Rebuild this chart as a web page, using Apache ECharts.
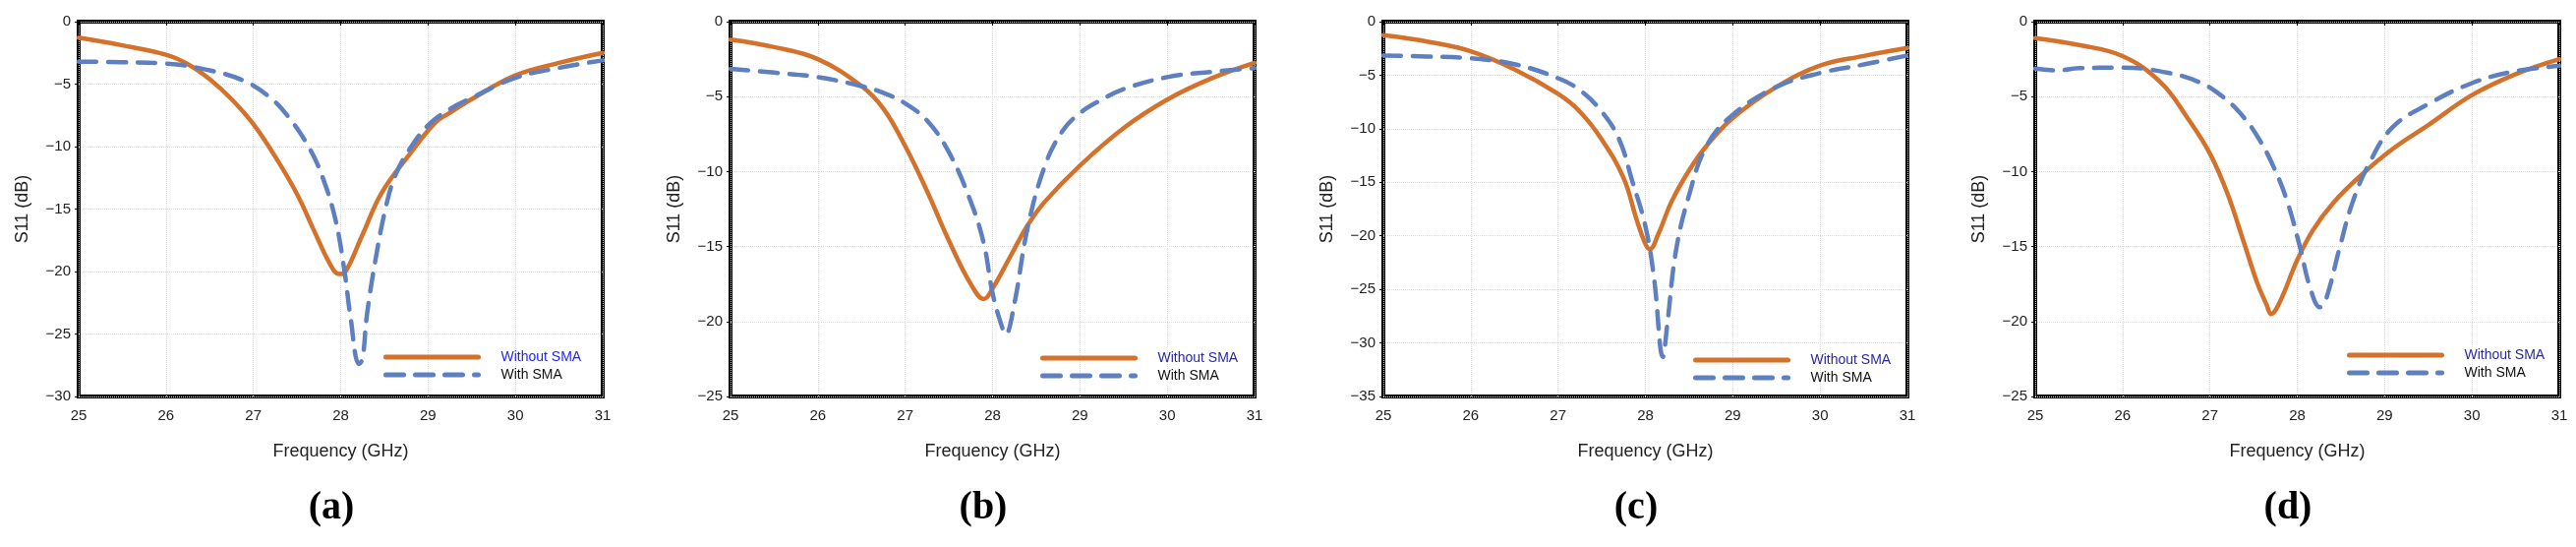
<!DOCTYPE html>
<html>
<head>
<meta charset="utf-8">
<script src="https://cdn.jsdelivr.net/npm/echarts@6/dist/echarts.min.js"></script>
<style>
  html, body { margin: 0; padding: 0; background: #fff; }
  #chart { width: 2620px; height: 556px; }
</style>
</head>
<body>
<div id="chart"></div>
<script>
// frequency points (GHz) and S11 (dB)
const freqWithoutA = [25, 25.5, 26, 26.25, 26.5, 26.75, 27, 27.25, 27.5, 27.7, 27.87, 27.98, 28.05, 28.24, 28.47, 28.78, 29.08, 29.25, 29.5, 30, 30.5, 31]
const withoutA = [-1.28, -1.9, -2.65, -3.4, -4.6, -6.2, -8.2, -10.8, -13.8, -16.8, -19.3, -20.2, -20.05, -17.2, -13.7, -10.7, -8.1, -7.3, -6.2, -4.3, -3.3, -2.5]
const freqWithA = [25, 25.5, 26, 26.5, 26.88, 27.18, 27.41, 27.64, 27.79, 27.94, 28.04, 28.11, 28.21, 28.25, 28.3, 28.4, 28.51, 28.62, 28.78, 29, 29.25, 29.5, 30, 30.5, 31]
const withA = [-3.2, -3.25, -3.35, -3.9, -4.7, -6.0, -7.7, -10.1, -12.4, -15.85, -19.8, -23.5, -27.4, -27.0, -23.5, -19.0, -15.06, -12.4, -10.3, -8.3, -7.0, -6.1, -4.5, -3.7, -3.1]

const freqWithoutB = [25, 25.5, 26, 26.5, 26.75, 27, 27.25, 27.5, 27.75, 27.9, 28, 28.2, 28.4, 28.6, 29, 29.5, 30, 30.5, 31]
const withoutB = [-1.2, -1.7, -2.5, -4.3, -5.8, -8.3, -11.3, -14.6, -17.5, -18.5, -17.8, -15.7, -13.6, -12.0, -9.6, -7.1, -5.2, -3.8, -2.75]
const freqWithB = [25, 25.5, 26, 26.5, 26.75, 27, 27.25, 27.5, 27.75, 27.9, 28, 28.1, 28.15, 28.25, 28.4, 28.6, 28.8, 29, 29.25, 29.5, 30, 30.5, 31]
const withB = [-3.15, -3.4, -3.7, -4.3, -4.75, -5.45, -6.6, -8.7, -12.0, -14.8, -18.1, -20.2, -20.85, -18.8, -13.8, -9.6, -7.3, -6.1, -5.2, -4.5, -3.7, -3.35, -3.1]

const freqWithoutC = [25, 25.5, 26, 26.5, 27, 27.25, 27.5, 27.75, 27.9, 28, 28.05, 28.15, 28.3, 28.5, 28.7, 29, 29.5, 30, 30.5, 31]
const withoutC = [-1.27, -1.86, -2.77, -4.46, -6.75, -8.4, -11, -14.6, -18.5, -20.75, -21.25, -19.8, -16.8, -13.9, -11.6, -9, -6.1, -4.1, -3.2, -2.45]
const freqWithC = [25, 25.5, 26, 26.5, 27, 27.25, 27.5, 27.7, 27.85, 28, 28.1, 28.2, 28.25, 28.35, 28.5, 28.7, 29, 29.5, 30, 30.5, 31]
const withC = [-3.16, -3.26, -3.42, -3.97, -5.28, -6.4, -8.4, -11, -14.9, -19.1, -24, -31.3, -28.3, -21.4, -16.2, -11.6, -8.7, -6.1, -4.8, -4.0, -3.16]

const freqWithoutD = [25, 25.5, 26, 26.44, 26.74, 27, 27.2, 27.39, 27.54, 27.65, 27.7, 27.8, 28, 28.18, 28.41, 28.71, 29.09, 29.5, 30, 30.5, 31]
const withoutD = [-1.1, -1.56, -2.3, -4.07, -6.4, -8.8, -11.45, -14.75, -17.4, -18.9, -19.5, -18.7, -15.9, -13.9, -12.1, -10.35, -8.5, -6.9, -4.9, -3.5, -2.5]
const freqWithD = [25, 25.25, 25.5, 26, 26.52, 26.89, 27.16, 27.39, 27.57, 27.73, 27.88, 28.03, 28.14, 28.26, 28.33, 28.48, 28.63, 28.82, 29.09, 29.5, 30, 30.5, 31]
const withD = [-3.14, -3.26, -3.1, -3.07, -3.41, -4.07, -5.07, -6.4, -7.9, -9.7, -11.9, -15.0, -17.6, -19.05, -18.5, -15.2, -12.1, -9.5, -7.05, -5.5, -4.1, -3.3, -2.96]

const yMins = [-30, -25, -35, -25]
const panelTags = ['a', 'b', 'c', 'd']
const legendNames = ['Without SMA', 'With SMA']

const panels = [
  { fw: freqWithoutA, w: withoutA, fs: freqWithA, s: withA },
  { fw: freqWithoutB, w: withoutB, fs: freqWithB, s: withB },
  { fw: freqWithoutC, w: withoutC, fs: freqWithC, s: withC },
  { fw: freqWithoutD, w: withoutD, fs: freqWithD, s: withD }
]

const ORANGE = '#D4712B'
const BLUE = '#5F80C0'
const FONT = 'Liberation Sans, Arial, sans-serif'

const gridLefts = [80, 743, 1407, 2070]
const legendPos = [[390, 356], [1058, 357], [1722, 359], [2387, 354]]
const legendColors = ['#1f1fff', '#2a2aa0', '#2a2aa0', '#2a2aa0']

const zip = (xs, ys) => xs.map((x, i) => [x, ys[i]])
const minus = v => (v < 0 ? '\u2212' + Math.abs(v) : String(v))

const chart = echarts.init(document.getElementById('chart'))

const grid = gridLefts.map(l => ({
  left: l, top: 22, width: 533, height: 381,
  show: true, borderColor: '#000', borderWidth: 4, containLabel: false
}))

const xAxis = panels.map((p, i) => ({
  type: 'value', gridIndex: i, min: 25, max: 31, interval: 1,
  name: 'Frequency (GHz)', nameLocation: 'middle', nameGap: 47,
  nameTextStyle: { fontFamily: FONT, fontSize: 18, color: '#222' },
  axisLine: { show: false },
  axisTick: { show: true, length: 4, lineStyle: { color: '#000', width: 1 } },
  axisLabel: { fontFamily: FONT, fontSize: 15, color: '#222', margin: 12 },
  splitLine: { show: true, lineStyle: { color: '#dcdcdc', type: 'dotted', width: 1 } }
}))

const yAxis = panels.map((p, i) => ({
  type: 'value', gridIndex: i, min: yMins[i], max: 0, interval: 5,
  name: 'S11 (dB)', nameLocation: 'middle', nameGap: 48,
  nameTextStyle: { fontFamily: FONT, fontSize: 18, color: '#222' },
  axisLine: { show: false },
  axisTick: { show: true, length: 4, lineStyle: { color: '#000', width: 1 } },
  axisLabel: { fontFamily: FONT, fontSize: 15, color: '#222', margin: 8, formatter: minus },
  splitLine: { show: true, lineStyle: { color: '#dcdcdc', type: 'dotted', width: 1 } }
}))

const series = []
panels.forEach((p, i) => {
  series.push({
    name: legendNames[0], type: 'line', xAxisIndex: i, yAxisIndex: i,
    data: zip(p.fw, p.w), showSymbol: false, symbol: 'none',
    smooth: 0.4,
    lineStyle: { color: ORANGE, width: 4.5, cap: 'round' }, itemStyle: { color: ORANGE },
    z: 2
  })
  series.push({
    name: legendNames[1], type: 'line', xAxisIndex: i, yAxisIndex: i,
    data: zip(p.fs, p.s), showSymbol: false, symbol: 'none',
    smooth: 0.4,
    lineStyle: { color: BLUE, width: 4.5, type: [18, 12], cap: 'round' }, itemStyle: { color: BLUE },
    z: 3
  })
})

const legend = legendPos.map((pos, i) => ({
  orient: 'vertical', left: pos[0], top: pos[1],
  itemWidth: 94, itemHeight: 14, itemGap: 4, padding: 0,
  selectedMode: false,
  itemStyle: { opacity: 0 },
  lineStyle: { width: 5, cap: 'round' },
  data: [
    { name: legendNames[0], textStyle: { color: legendColors[i] } },
    { name: legendNames[1], textStyle: { color: '#111' } }
  ],
  textStyle: { fontFamily: FONT, fontSize: 14, padding: [0, 0, 0, 18] }
}))

const title = panelTags.map((t, i) => ({
  text: '{p|(}{b|' + t + '}{p|)}',
  left: gridLefts[i] + 266 - 14, top: 492, textAlign: 'center',
  textStyle: {
    rich: {
      p: { fontFamily: 'Liberation Serif, DejaVu Serif, serif', fontSize: 40, color: '#000' },
      b: { fontFamily: 'Liberation Serif, DejaVu Serif, serif', fontSize: 40, fontWeight: 'bold', color: '#000' }
    }
  }
}))

chart.setOption({
  animation: false,
  backgroundColor: '#fff',
  title, grid, xAxis, yAxis, legend, series
})
</script>
</body>
</html>
